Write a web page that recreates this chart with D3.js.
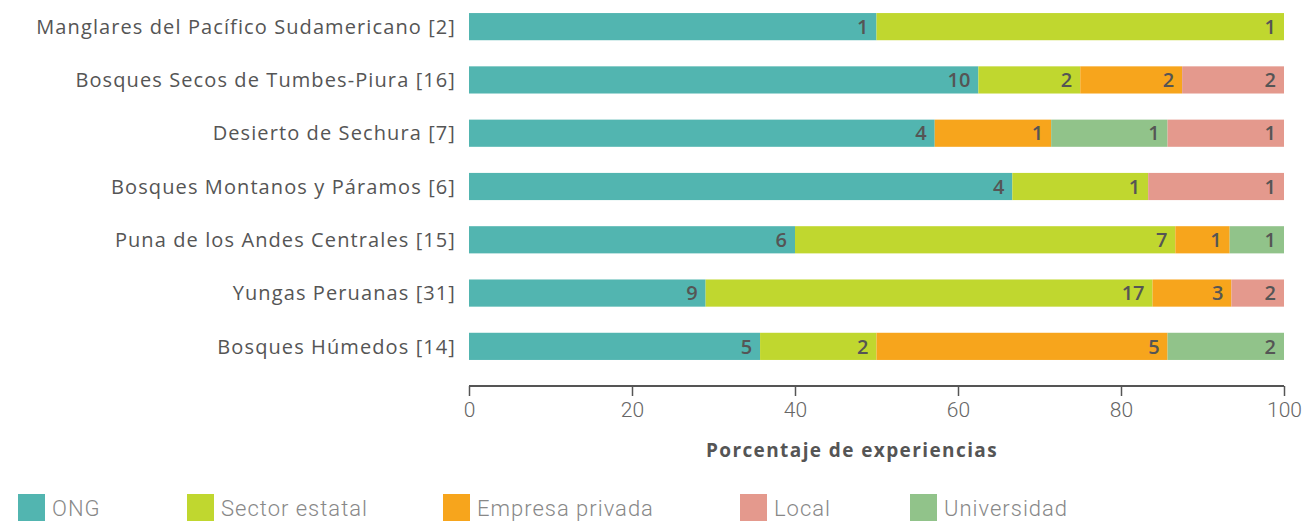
<!DOCTYPE html>
<html>
<head>
<meta charset="utf-8">
<script src="https://cdn.jsdelivr.net/npm/d3@7"></script>
<style>
  body { margin: 0; background: #fff; }
  text { font-family: "Open Sans", sans-serif; }
</style>
</head>
<body>
<div id="chart"></div>
<script>
// Regions and counts per actor type
var regions = [
  "Manglares del Pacífico Sudamericano [2]",
  "Bosques Secos de Tumbes-Piura [16]",
  "Desierto de Sechura [7]",
  "Bosques Montanos y Páramos [6]",
  "Puna de los Andes Centrales [15]",
  "Yungas Peruanas [31]",
  "Bosques Húmedos [14]"
];
var ong         = [1, 10, 4, 4, 6, 9, 5];
var estatal     = [1, 2, 0, 1, 7, 17, 2];
var empresa     = [0, 2, 1, 0, 1, 3, 5];
var universidad = [0, 0, 1, 0, 1, 0, 2];
var local       = [0, 2, 1, 1, 0, 2, 0];

var xTicks = [0, 20, 40, 60, 80, 100];

// stack order on the bars
var series = [
  { key: "ONG", values: ong, color: "#52B5B0" },
  { key: "Sector estatal", values: estatal, color: "#C0D72F" },
  { key: "Empresa privada", values: empresa, color: "#F7A51C" },
  { key: "Universidad", values: universidad, color: "#91C38A" },
  { key: "Local", values: local, color: "#E4998D" }
];
// legend order
var legendKeys = ["ONG", "Sector estatal", "Empresa privada", "Local", "Universidad"];
var legendX = [18, 187, 443, 740, 910];

var width = 1307, height = 525;
var left = 469, right = 1284;

var svg = d3.select("#chart").append("svg")
  .attr("width", width)
  .attr("height", height);

var xScale = d3.scaleLinear().domain([0, 100]).range([left, right]);
var yScale = d3.scaleBand().domain(regions).range([0, 373]).paddingInner(0.49).paddingOuter(0.245);

// build stacked rows
var rows = regions.map(function(r, i) {
  var total = d3.sum(series, function(s) { return s.values[i]; });
  var acc = 0;
  var segs = [];
  series.forEach(function(s) {
    var v = s.values[i];
    if (v > 0) {
      segs.push({ region: r, value: v, x0: acc / total * 100, x1: (acc + v) / total * 100, color: s.color });
    }
    acc += v;
  });
  return segs;
});

var segs = [].concat.apply([], rows);

svg.append("g").selectAll("rect").data(segs).enter()
  .append("rect")
  .attr("x", function(d) { return xScale(d.x0); })
  .attr("y", function(d) { return yScale(d.region); })
  .attr("width", function(d) { return xScale(d.x1) - xScale(d.x0); })
  .attr("height", yScale.bandwidth())
  .attr("fill", function(d) { return d.color; });

svg.append("g").selectAll("text").data(segs).enter()
  .append("text")
  .attr("x", function(d) { return xScale(d.x1) - 8; })
  .attr("y", function(d) { return yScale(d.region) + yScale.bandwidth() / 2; })
  .attr("dy", "0.36em")
  .attr("text-anchor", "end")
  .attr("font-size", 20)
  .attr("font-weight", 600)
  .attr("fill", "#555")
  .text(function(d) { return d.value; });

// category labels
svg.append("g").selectAll("text").data(regions).enter()
  .append("text")
  .attr("x", 456)
  .attr("y", function(d) { return yScale(d) + yScale.bandwidth() / 2; })
  .attr("dy", "0.36em")
  .attr("text-anchor", "end")
  .attr("font-size", 20)
  .attr("letter-spacing", 1.1)
  .attr("fill", "#555")
  .text(function(d) { return d; });

// x axis
var xAxis = d3.axisBottom(xScale).tickValues(xTicks).tickSize(10).tickPadding(6).tickSizeOuter(0);
var gx = svg.append("g")
  .attr("transform", "translate(0,386)")
  .call(xAxis);
gx.select(".domain").attr("stroke", "#555").attr("stroke-width", 2).attr("d", "M" + left + ",0H" + right);
gx.selectAll(".tick line").attr("stroke", "#555").attr("stroke-width", 1.5);
gx.selectAll(".tick text")
  .attr("font-size", 21)
  .attr("font-weight", 300)
  .attr("fill", "#666")
  .style("font-family", "Roboto, sans-serif");

svg.append("text")
  .attr("x", 852)
  .attr("y", 457)
  .attr("text-anchor", "middle")
  .attr("font-size", 19)
  .attr("font-weight", 700)
  .attr("letter-spacing", 1.4)
  .attr("fill", "#555")
  .text("Porcentaje de experiencias");

// legend
var legend = svg.append("g").selectAll("g").data(legendKeys).enter()
  .append("g")
  .attr("transform", function(d, i) { return "translate(" + legendX[i] + ",494)"; });
legend.append("rect")
  .attr("width", 27)
  .attr("height", 27)
  .attr("fill", function(d) { return series.find(function(s) { return s.key === d; }).color; });
legend.append("text")
  .attr("x", 34)
  .attr("y", 14)
  .attr("dy", "0.36em")
  .attr("font-size", 22)
  .attr("font-weight", 300)
  .attr("letter-spacing", 1)
  .attr("fill", "#888")
  .style("font-family", "Roboto, sans-serif")
  .text(function(d) { return d; });
</script>
</body>
</html>
